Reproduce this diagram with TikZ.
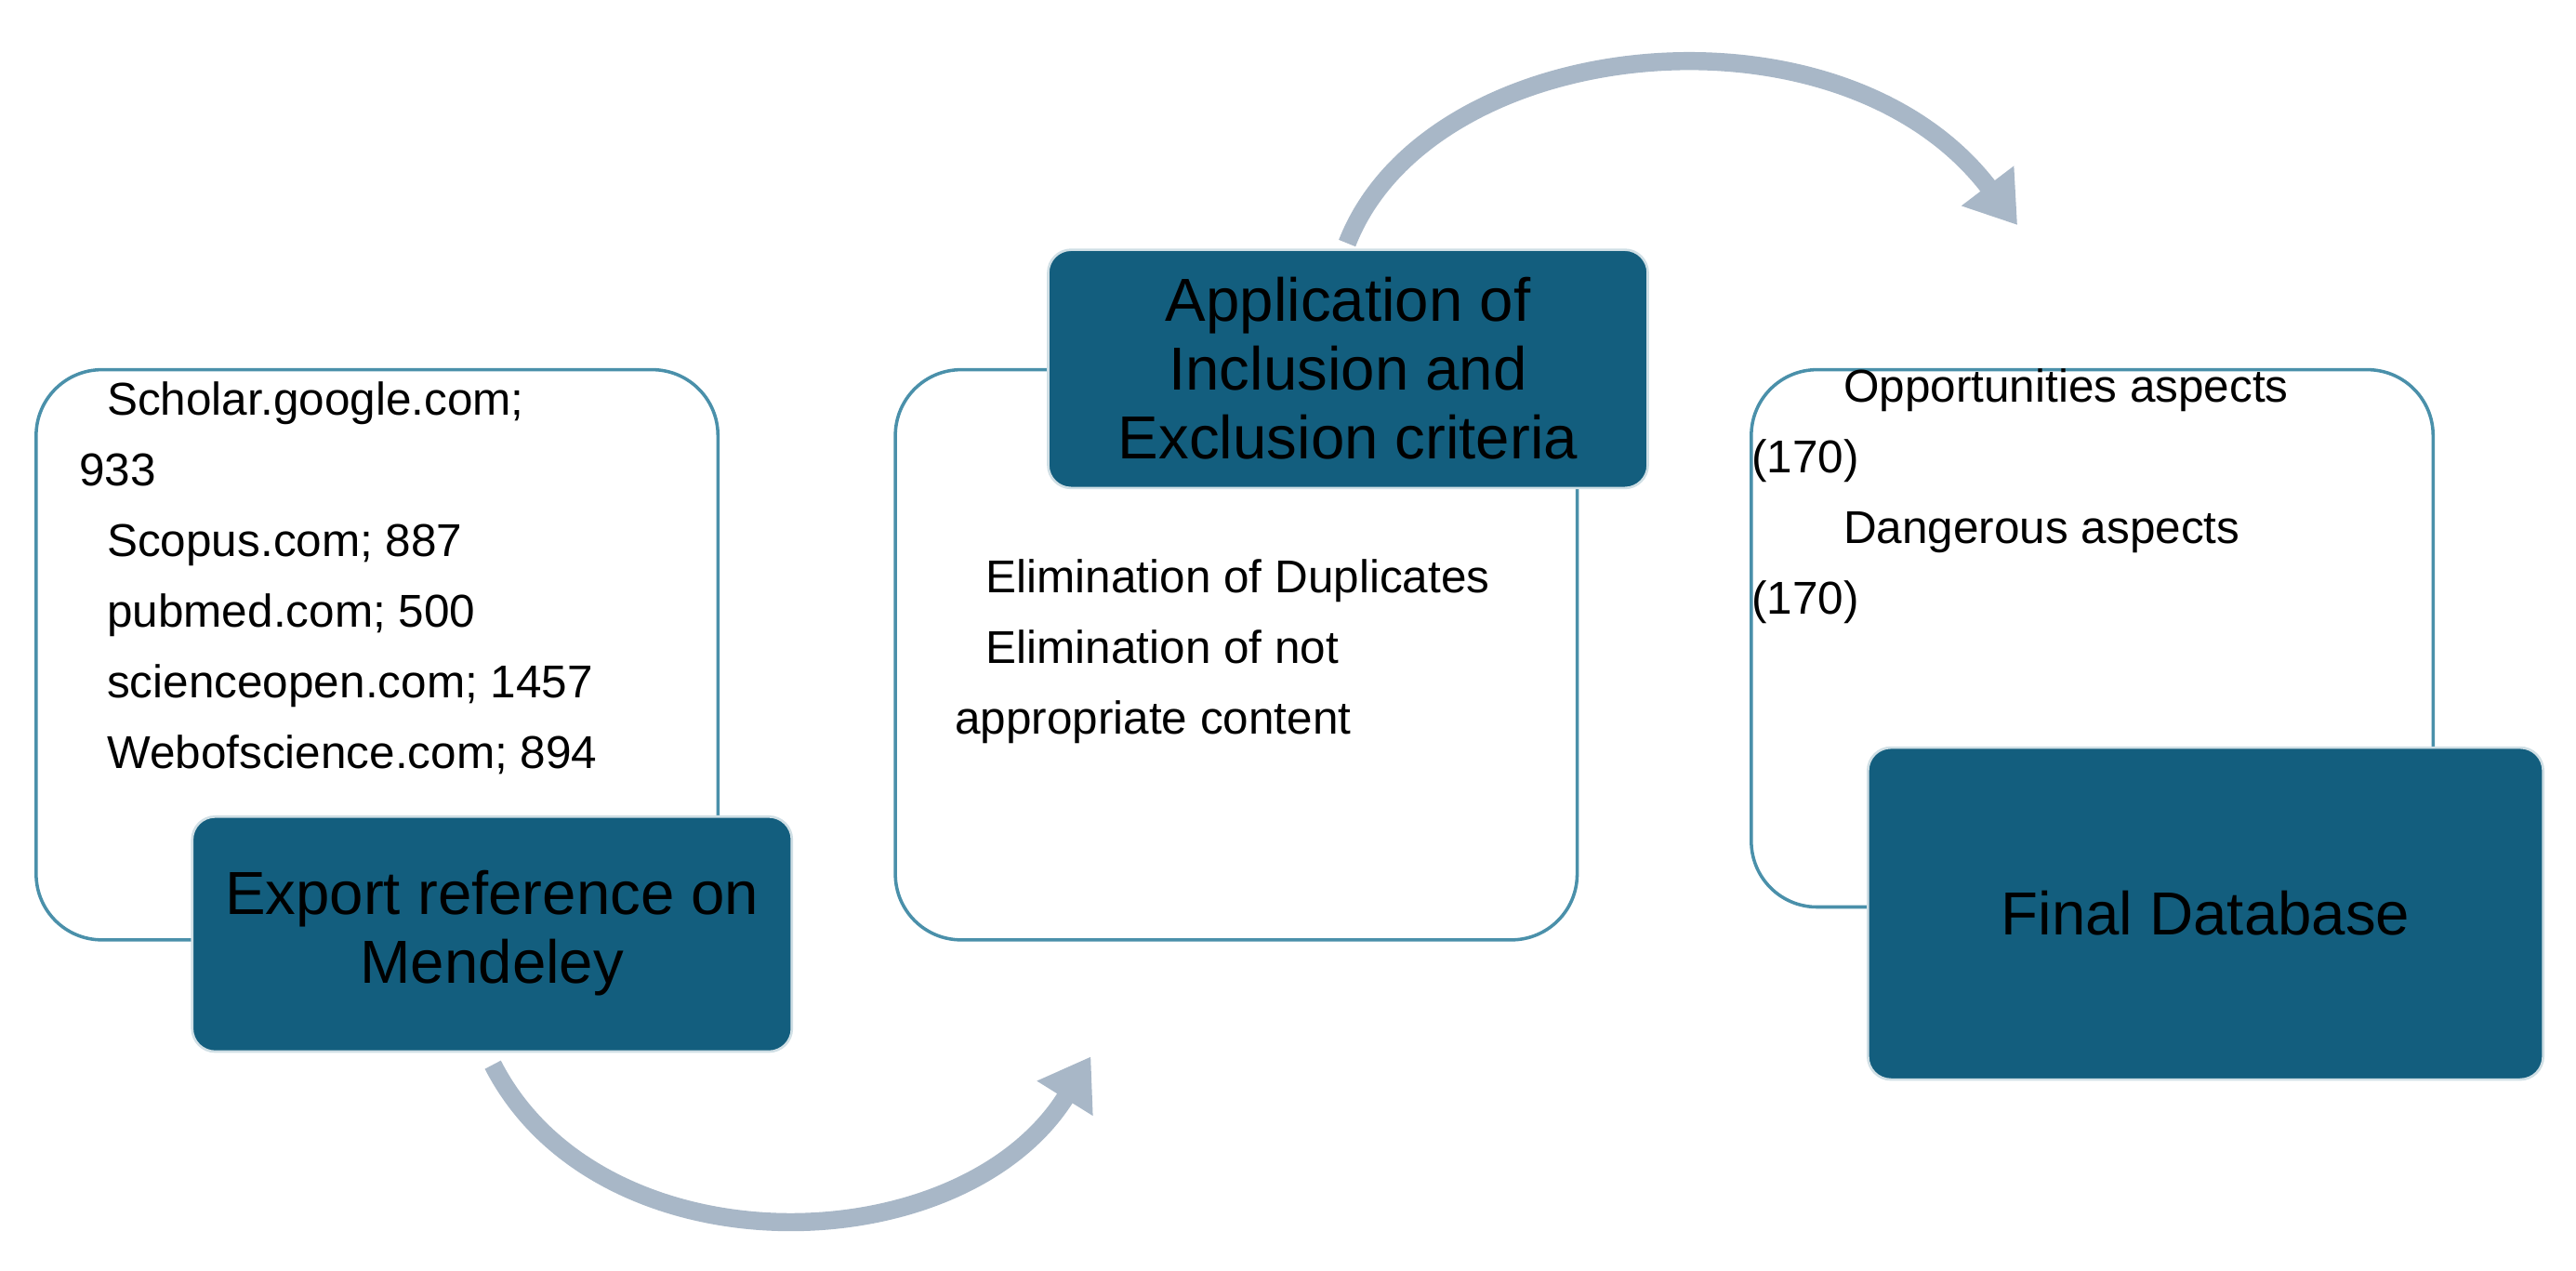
\documentclass[tikz,border=0pt]{standalone}
\usepackage{fontspec}
\setmainfont{Liberation Sans}
\usetikzlibrary{arrows.meta}
\definecolor{dark}{HTML}{135E7E}
\definecolor{edge}{HTML}{4A90AA}
\definecolor{arr}{HTML}{A8B7C7}
\begin{document}
\begin{tikzpicture}[x=1pt,y=-1pt,
  wbox/.style={draw=edge,line width=2pt,fill=white,rounded corners=40pt},
  dbox/.style={draw=white!80!dark,line width=1.5pt,fill=dark,rounded corners=14pt},
  dtext/.style={font=\fontsize{37}{42}\selectfont,align=center,text=black},
  ltext/.style={font=\fontsize{28}{43}\selectfont,align=left,anchor=north west,inner sep=0pt},
  garr/.style={draw=arr,line width=11pt,-{Triangle[width=38pt,length=30pt]}}]
\useasboundingbox (0,0) rectangle (1568,773);
% boxes
\draw[wbox] (22,225) rectangle (437,572);
\draw[wbox] (545,225) rectangle (960,572);
\draw[wbox] (1066,225) rectangle (1481,552);
\draw[dbox] (117,497) rectangle (482,640);
\draw[dbox] (638,152) rectangle (1003,297);
\draw[dbox] (1137,455) rectangle (1548,657);
\node[dtext] (d1) at (299.5,568) {Export reference on\\Mendeley};
\node[dtext] (d2) at (820.5,224) {Application of\\Inclusion and\\Exclusion criteria};
\node[dtext] (d3) at (1342.5,556) {Final Database};
% texts
\node[ltext] (t1) at (48,232) {\hspace*{17pt}Scholar.google.com;\\933\\\hspace*{17pt}Scopus.com; 887\\\hspace*{17pt}pubmed.com; 500\\\hspace*{17pt}scienceopen.com; 1457\\\hspace*{17pt}Webofscience.com; 894};
\node[ltext] (t2) at (581,340) {\hspace*{19pt}Elimination of Duplicates\\\hspace*{19pt}Elimination of not\\appropriate  content};
\node[ltext] (t3) at (1066,224) {\hspace*{56pt}Opportunities aspects\\(170)\\\hspace*{56pt}Dangerous aspects\\(170)};
% arrows
\coordinate (a1s) at (300,648);
\coordinate (a1e) at (664,643);
\coordinate (a2s) at (820,148);
\coordinate (a2e) at (1228,137);
\draw[garr] (a1s) .. controls (365,775) and (585,770) .. (a1e);
\draw[garr] (a2s) .. controls (870,20) and (1120,-5) .. (a2e);
\end{tikzpicture}
\end{document}
